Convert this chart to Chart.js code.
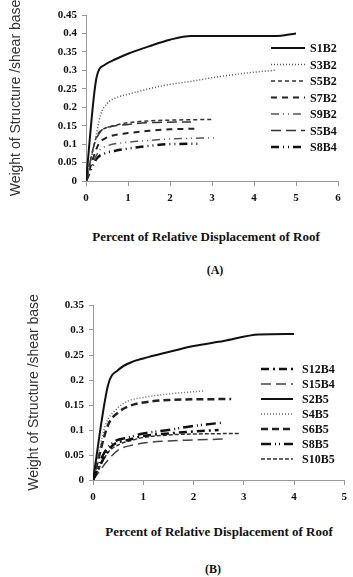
<!DOCTYPE html>
<html>
<head>
<meta charset="utf-8">
<script src="https://cdn.jsdelivr.net/npm/chart.js@4.4.1/dist/chart.umd.min.js"></script>
<style>
  body { margin: 0; background: #fff; width: 353px; height: 577px; position: relative; overflow: hidden; }
  canvas { position: absolute; left: 0; }
  .cap { position: absolute; font-family: "Liberation Serif", serif; font-weight: bold; color: #111; white-space: nowrap; transform: translate(-50%, -50%); }
</style>
</head>
<body>
<canvas id="grafA" width="353" height="215" style="top:0"></canvas>
<canvas id="grafB" width="353" height="222" style="top:290px"></canvas>
<div class="cap" style="left:206px; top:237px; font-size:13px">Percent of Relative Displacement of Roof</div>
<div class="cap" style="left:215px; top:270px; font-size:12px">(A)</div>
<div class="cap" style="left:219px; top:532px; font-size:13px">Percent of Relative Displacement of Roof</div>
<div class="cap" style="left:213px; top:569px; font-size:12px">(B)</div>
<script>
// dados (x = % deslocamento, y = peso/cisalhamento)
const seriesA = ['S1B2', 'S3B2', 'S5B2', 'S7B2', 'S9B2', 'S5B4', 'S8B4'];
const s1b2 = [[0,0],[0.25,0.28],[0.45,0.315],[0.7,0.33],[1,0.345],[1.5,0.365],[2,0.383],[2.5,0.393],[4.5,0.393],[5,0.40]];
const s3b2 = [[0,0],[0.2,0.1],[0.35,0.18],[0.5,0.21],[0.7,0.225],[1,0.235],[1.5,0.25],[2,0.262],[2.5,0.27],[3,0.28],[3.5,0.288],[4,0.295],[4.5,0.30]];
const s5b2 = [[0,0],[0.25,0.12],[0.4,0.14],[0.6,0.148],[1,0.158],[1.5,0.163],[2,0.165],[3,0.167]];
const s7b2 = [[0,0],[0.3,0.1],[0.45,0.115],[0.7,0.125],[1,0.13],[1.5,0.136],[2,0.14],[2.7,0.142]];
const s9b2 = [[0,0],[0.3,0.08],[0.5,0.095],[1,0.105],[1.5,0.11],[2,0.114],[3.1,0.117]];
const s5b4 = [[0,0],[0.2,0.1],[0.35,0.135],[0.5,0.145],[1,0.153],[1.5,0.158],[2.5,0.16]];
const s8b4 = [[0,0],[0.25,0.06],[0.45,0.075],[0.7,0.082],[1,0.088],[1.5,0.095],[2,0.1],[2.7,0.101]];

const seriesB = ['S12B4', 'S15B4', 'S2B5', 'S4B5', 'S6B5', 'S8B5', 'S10B5'];
const s12b4 = [[0,0],[0.25,0.05],[0.4,0.07],[0.7,0.08],[1,0.088],[1.5,0.093],[2,0.097],[2.5,0.1]];
const s15b4 = [[0,0],[0.3,0.04],[0.5,0.06],[0.8,0.07],[1,0.074],[1.5,0.078],[2,0.08],[2.65,0.082]];
const s2b5 = [[0,0],[0.3,0.19],[0.5,0.22],[0.75,0.235],[1,0.243],[1.5,0.256],[2,0.268],[2.6,0.278],[3.3,0.291],[4,0.292]];
const s4b5 = [[0,0],[0.25,0.11],[0.45,0.14],[0.7,0.158],[1,0.165],[1.5,0.172],[2.2,0.178]];
const s6b5 = [[0,0],[0.3,0.11],[0.5,0.135],[0.7,0.147],[1,0.155],[1.5,0.16],[2.75,0.162]];
const s8b5 = [[0,0],[0.2,0.05],[0.4,0.075],[0.7,0.085],[1,0.093],[1.5,0.1],[2,0.108],[2.6,0.115]];
const s10b5 = [[0,0],[0.3,0.055],[0.5,0.07],[0.8,0.08],[1,0.085],[1.5,0.09],[2,0.092],[2.9,0.093]];

const xTicksA = ['0', '1', '2', '3', '4', '5', '6'];
const yTicksA = ['0', '0.05', '0.1', '0.15', '0.2', '0.25', '0.3', '0.35', '0.4', '0.45'];
const xTicksB = ['0', '1', '2', '3', '4', '5'];
const yTicksB = ['0', '0.05', '0.1', '0.15', '0.2', '0.25', '0.3', '0.35'];

const tituloY = 'Weight of Structure /shear base';

function pts(arr) {
    return arr.map(p => ({x: p[0], y: p[1]}));
}

function linha(label, arr, cor, larg, dash) {
    return {
        label: label,
        data: pts(arr),
        borderColor: cor,
        borderWidth: larg,
        borderDash: dash,
        pointRadius: 0,
        cubicInterpolationMode: 'monotone',
        fill: false
    };
}

// legenda desenhada dentro da area do grafico
const legendaDentro = {
    id: 'legendaDentro',
    afterDraw(chart, args, opts) {
        const ctx = chart.ctx;
        ctx.save();
        chart.data.datasets.forEach((ds, i) => {
            const y = opts.y + i * opts.passo;
            ctx.strokeStyle = ds.borderColor;
            ctx.lineWidth = ds.borderWidth;
            ctx.setLineDash(ds.borderDash || []);
            ctx.beginPath();
            ctx.moveTo(opts.x1, y);
            ctx.lineTo(opts.x2, y);
            ctx.stroke();
            ctx.setLineDash([]);
            ctx.fillStyle = '#111';
            ctx.font = 'bold 12px "Liberation Serif"';
            ctx.textBaseline = 'middle';
            ctx.fillText(ds.label, opts.xt, y + 1);
        });
        ctx.restore();
    }
};

function montar(id, datasets, xMax, yMax, xTicks, yTicks, yW, xH, pad, tituloPad, leg) {
    return new Chart(document.getElementById(id), {
        type: 'line',
        data: {datasets: datasets},
        options: {
            responsive: false,
            animation: false,
            devicePixelRatio: 1,
            layout: {padding: pad},
            plugins: {
                legend: {display: false},
                tooltip: {enabled: false},
                legendaDentro: leg
            },
            scales: {
                x: {
                    type: 'linear', min: 0, max: xMax,
                    afterFit: s => { s.height = xH; },
                    border: {color: '#999', width: 1},
                    grid: {drawOnChartArea: false, tickLength: 5, color: '#999'},
                    ticks: {
                        stepSize: 1, padding: 6, color: '#111',
                        font: {family: 'Liberation Serif', weight: 'bold', size: 11},
                        callback: (v, i) => xTicks[i]
                    }
                },
                y: {
                    min: 0, max: yMax,
                    afterFit: s => { s.width = yW; },
                    border: {color: '#999', width: 1},
                    grid: {drawOnChartArea: false, tickLength: 4, color: '#999'},
                    ticks: {
                        stepSize: 0.05, padding: 5, color: '#111',
                        font: {family: 'Liberation Serif', weight: 'bold', size: 11},
                        callback: (v, i) => yTicks[i]
                    },
                    title: {
                        display: true, text: tituloY, color: '#333',
                        font: {family: 'Liberation Sans', size: 14},
                        padding: {top: tituloPad, bottom: 0}
                    }
                }
            }
        },
        plugins: [legendaDentro]
    });
}

const dsA = [
    linha(seriesA[0], s1b2, '#111', 2, []),
    linha(seriesA[1], s3b2, '#555', 1.5, [1, 2]),
    linha(seriesA[2], s5b2, '#333', 1.5, [4, 3]),
    linha(seriesA[3], s7b2, '#222', 2, [6, 5]),
    linha(seriesA[4], s9b2, '#555', 1.5, [8, 4, 1, 4, 1, 4]),
    linha(seriesA[5], s5b4, '#333', 1.5, [10, 5]),
    linha(seriesA[6], s8b4, '#111', 2.5, [8, 4, 1, 4, 1, 4])
];

const dsB = [
    linha(seriesB[0], s12b4, '#111', 2.5, [8, 4, 2, 4]),
    linha(seriesB[1], s15b4, '#444', 1.5, [10, 5]),
    linha(seriesB[2], s2b5, '#111', 2, []),
    linha(seriesB[3], s4b5, '#666', 1.5, [1, 2]),
    linha(seriesB[4], s6b5, '#222', 2.5, [7, 4]),
    linha(seriesB[5], s8b5, '#111', 2.5, [10, 4, 1, 3, 1, 4]),
    linha(seriesB[6], s10b5, '#333', 1.5, [4, 2])
];

let GRFA = montar('grafA', dsA, 6, 0.45, xTicksA, yTicksA, 86, 34,
    {top: 15, right: 15, left: 0, bottom: 0}, 8,
    {x1: 271, x2: 305, xt: 310, y: 48, passo: 16.5});

let GRFB = montar('grafB', dsB, 5, 0.35, xTicksB, yTicksB, 93, 32,
    {top: 15, right: 4, left: 0, bottom: 0}, 26,
    {x1: 261, x2: 293, xt: 302, y: 79, passo: 15});
</script>
</body>
</html>
